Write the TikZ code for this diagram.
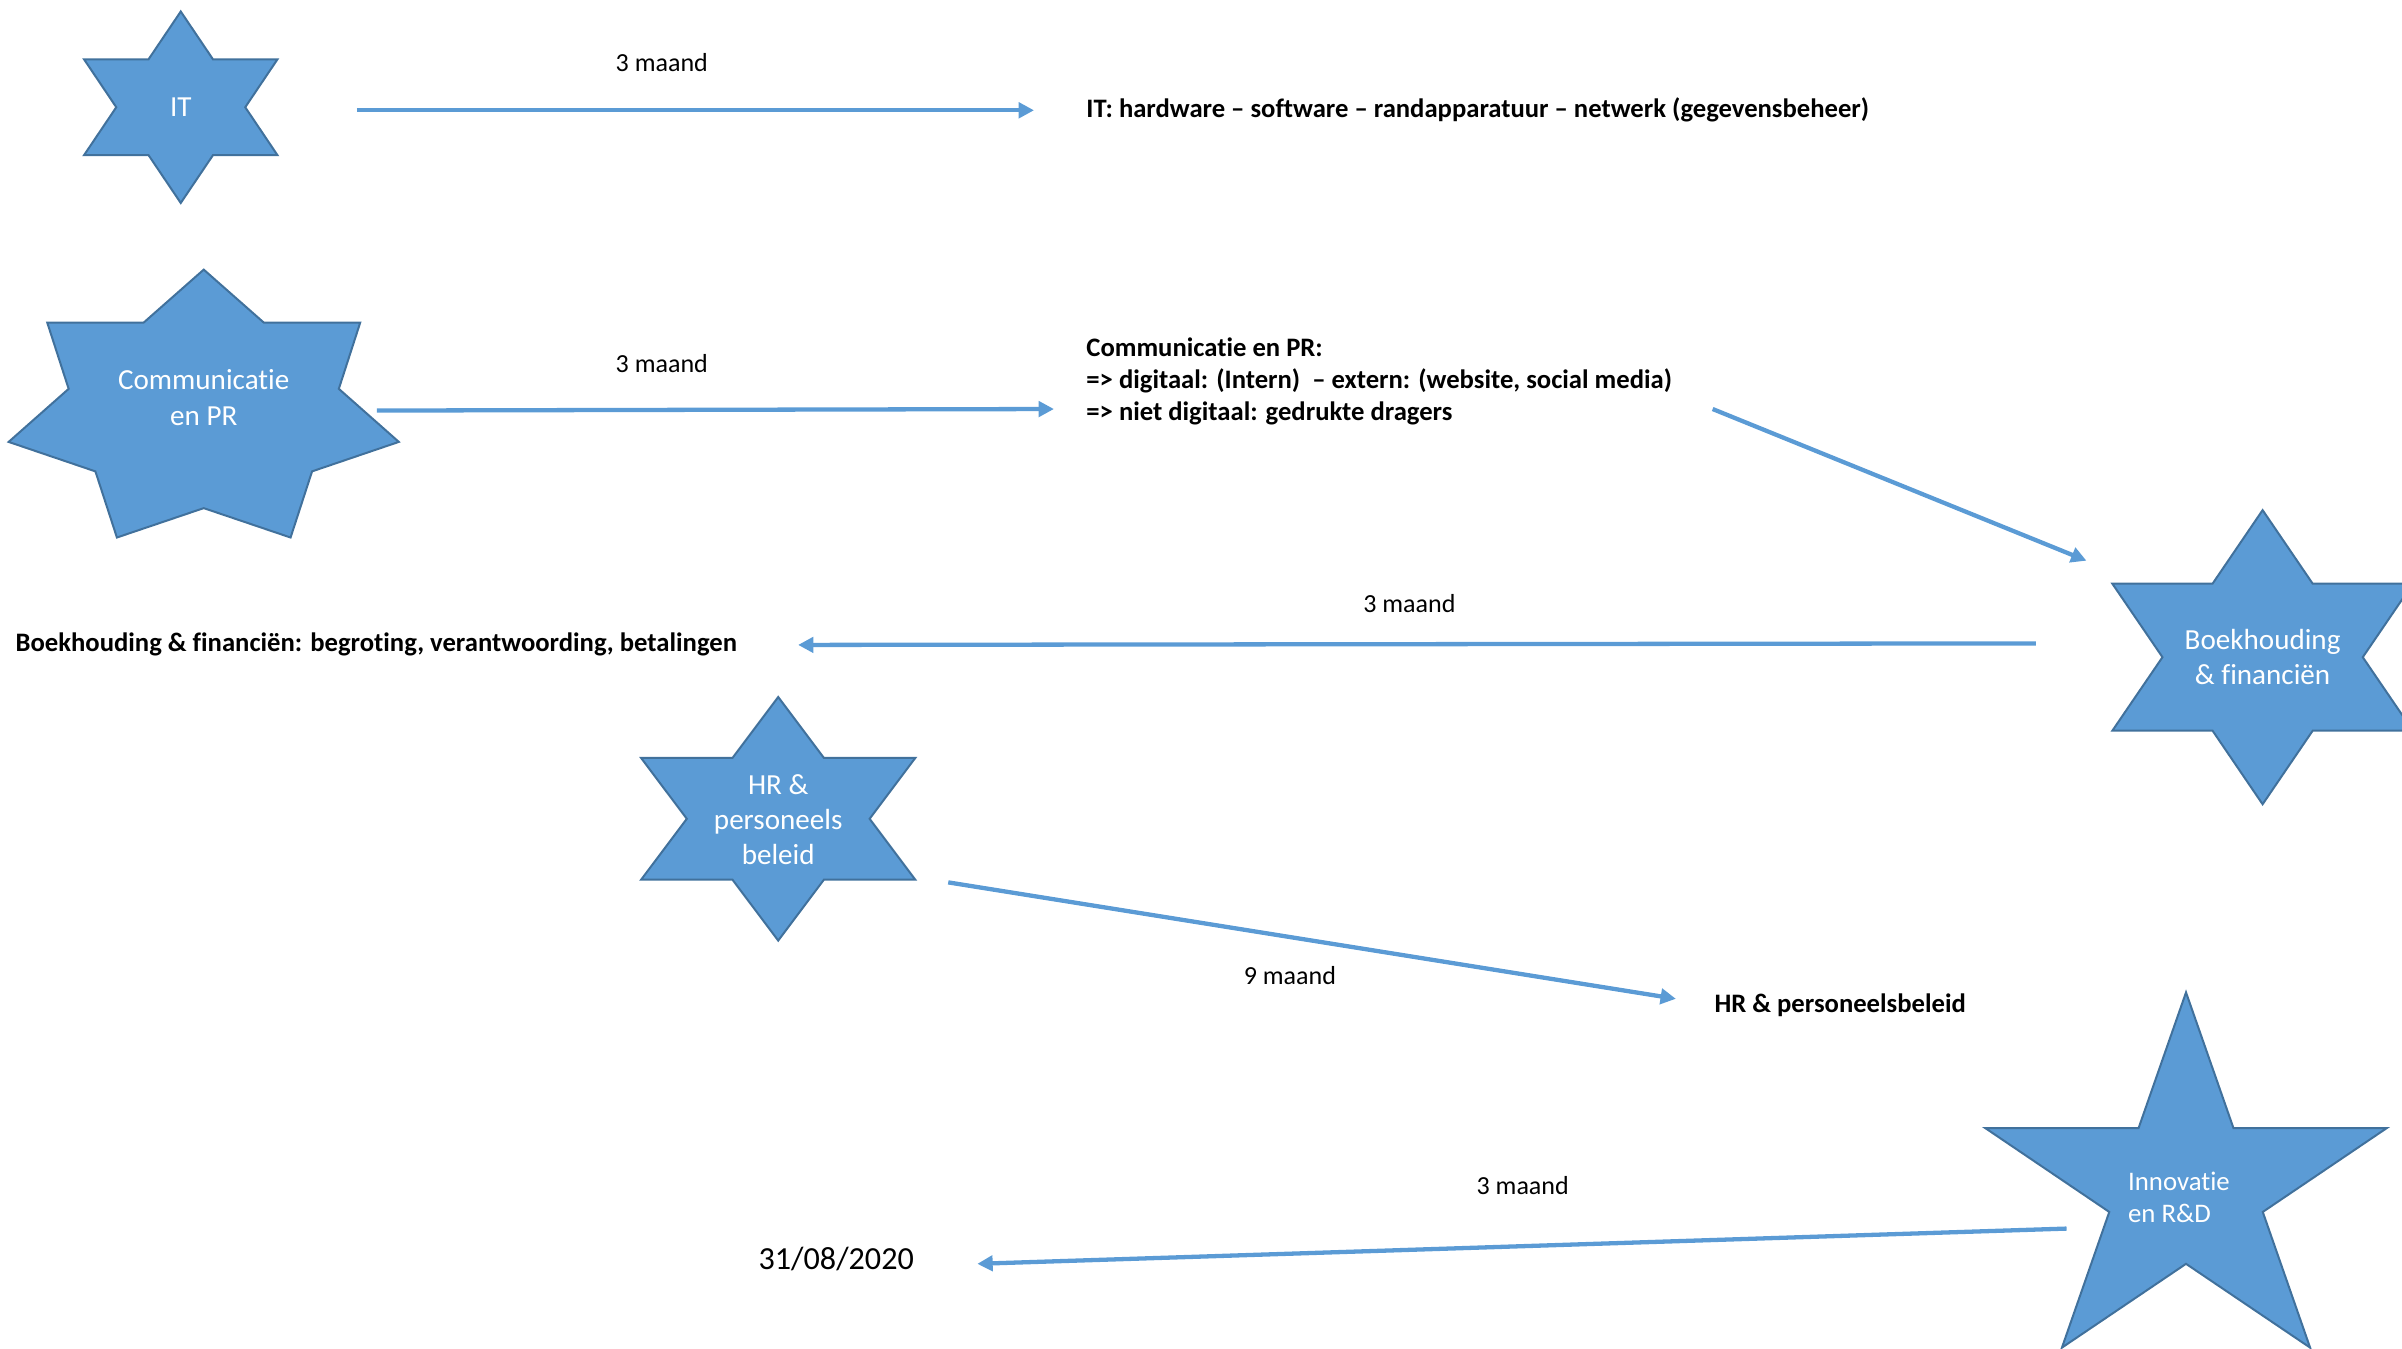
\documentclass[tikz,border=0pt]{standalone}
\usepackage{fontspec}
\setmainfont{Carlito}[Ligatures={NoCommon}]
\usetikzlibrary{arrows.meta}
\definecolor{starfill}{RGB}{91,155,213}
\definecolor{starline}{RGB}{65,113,156}
\definecolor{arrcol}{RGB}{91,155,213}
\newcommand{\drawstar}[6]{% center, last index, R, r, xscale, step angle
  \draw[starshape, shift={#1}, xscale=#5]
    plot[samples at={0,...,#2}] ({-90+\x*#6}:{#4+(#3-#4)*(1-mod(\x,2))}) -- cycle;
}
\begin{document}
\begin{tikzpicture}[x=1pt,y=-1pt,
  starshape/.style={fill=starfill, draw=starline, line width=1.3pt, line join=miter},
  startext/.style={text=white, align=center, font=\fontsize{19}{23}\selectfont, inner sep=0pt},
  arr/.style={draw=arrcol, line width=2.8pt, -{Triangle[length=10pt,width=10pt]}},
  lbl/.style={font=\fontsize{17}{20}\selectfont, inner sep=0pt},
  boldtxt/.style={font=\fontsize{17.4}{21}\selectfont\bfseries, inner sep=0pt, anchor=west, align=left}]
\useasboundingbox (0,0) rectangle (1568,880.6);
\clip (0,0) rectangle (1568,880.6);

% stars
\drawstar{(118,70)}{11}{62.5}{36.1}{1.166}{30}
\drawstar{(133,268)}{13}{92}{63.7}{1.42}{25.714}
\drawstar{(1477,429)}{11}{96}{55.4}{1.18}{30}
\drawstar{(508,534.5)}{11}{79.5}{45.9}{1.30}{30}
\drawstar{(1427,776)}{9}{128.2}{49}{1.075}{36}

% star labels
\node[startext] (it) at (118,70) {IT};
\node[startext] (comm) at (133,259.5) {Communicatie\\en PR};
\node[startext] (boek) at (1477,429) {Boekhouding\\\& financiën};
\node[startext] (hr) at (508,535) {HR \&\\personeels\\beleid};
\node[startext, font=\fontsize{17.5}{21}\selectfont, align=left, anchor=west] (inno) at (1389,781.5) {Innovatie\\en R\&D};

% texts
\node[boldtxt] (ittxt) at (709,71.5) {IT: hardware – software – randapparatuur – netwerk (gegevensbeheer)};
\node[boldtxt] (commtxt) at (709,249) {Communicatie en PR:\\=> digitaal: (Intern)\ \ – extern: (website, social media)\\=> niet digitaal: gedrukte dragers};
\node[boldtxt] (boektxt) at (10,420.5) {Boekhouding \& financiën: begroting, verantwoording, betalingen};
\node[boldtxt] (hrtxt) at (1119,656.5) {HR \& personeelsbeleid};
\node[font=\fontsize{21}{25}\selectfont, inner sep=0pt, anchor=west] (date) at (495,822) {31/08/2020};

% connector end points
\coordinate (a1s) at (233,72);
\coordinate (a1e) at (675,72);
\coordinate (a2s) at (246,268);
\coordinate (a2e) at (688,267);
\coordinate (a3s) at (1118,267);
\coordinate (a3e) at (1362,366);
\coordinate (a4s) at (1329,420);
\coordinate (a4e) at (521,421);
\coordinate (a5s) at (619,576);
\coordinate (a5e) at (1094,652);
\coordinate (a6s) at (1349,802);
\coordinate (a6e) at (638,825);

\draw[arr] (a1s) -- (a1e);
\draw[arr] (a2s) -- (a2e);
\draw[arr] (a3s) -- (a3e);
\draw[arr] (a4s) -- (a4e);
\draw[arr] (a5s) -- (a5e);
\draw[arr] (a6s) -- (a6e);

% connector labels
\node[lbl] (l1) at (432,41) {3 maand};
\node[lbl] (l2) at (432,237) {3 maand};
\node[lbl] (l4) at (920,394) {3 maand};
\node[lbl] (l5) at (842,637) {9 maand};
\node[lbl] (l6) at (994,774) {3 maand};
\end{tikzpicture}
\end{document}
